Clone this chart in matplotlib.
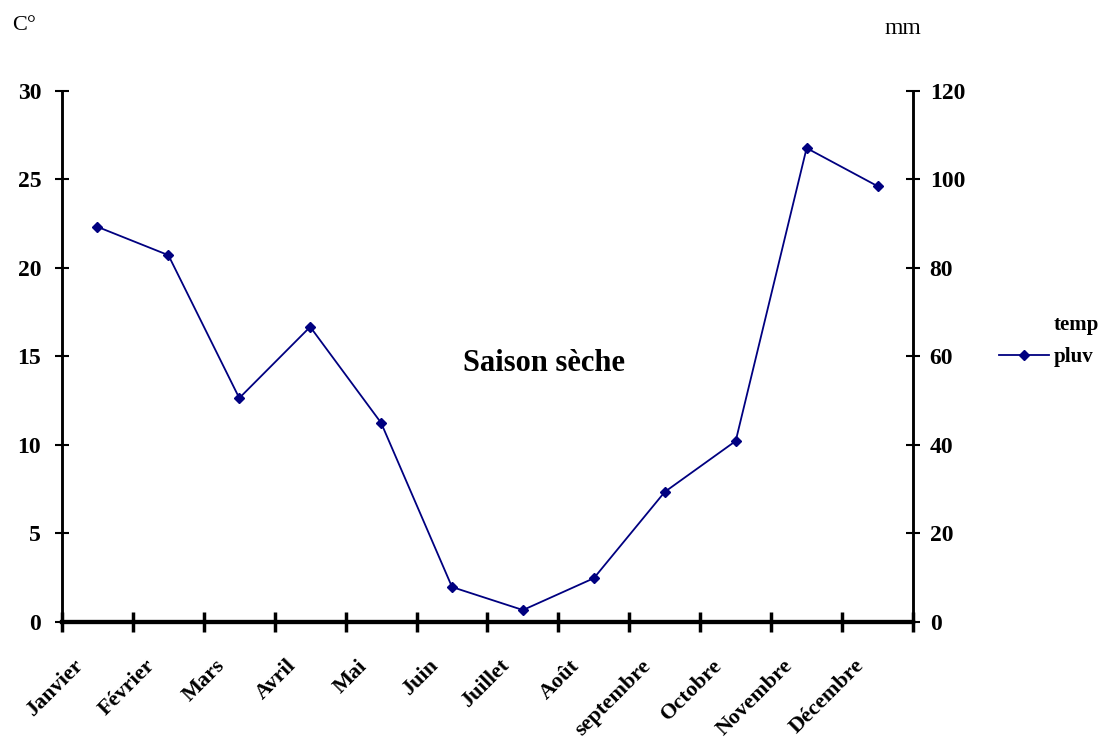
import matplotlib
matplotlib.use("Agg")
import matplotlib.pyplot as plt
import matplotlib.transforms as mtransforms
from matplotlib.lines import Line2D

plt.rcParams['font.family'] = ['Liberation Serif', 'DejaVu Serif']

# data
mois = ['Janvier', 'Février', 'Mars', 'Avril', 'Mai', 'Juin', 'Juillet',
        'Août', 'septembre', 'Octobre', 'Novembre', 'Décembre']
pluv = [89.3, 82.9, 50.6, 66.7, 45.0, 7.9, 2.7, 9.9, 29.4, 40.9, 107.1, 98.5]

fig = plt.figure(figsize=(11.13, 7.38), dpi=100)
ax = fig.add_axes([0.0557, 0.1572, 0.7646, 0.7195])
ax2 = ax.twinx()

x = [i + 0.5 for i in range(len(mois))]
ax2.plot(x, pluv, color='#000080', lw=1.3, marker='D', ms=5)

ax.set_xlim(0, 12)
ax.set_ylim(0, 30)
ax2.set_ylim(0, 120)
ax.set_yticks(range(0, 31, 5))
ax2.set_yticks(range(0, 121, 20))

ax.set_xticks(range(13), minor=False)
ax.set_xticklabels([])
ax.set_xticks(x, minor=True)
ax.set_xticklabels(mois, minor=True, rotation=45, ha='right', rotation_mode='anchor',
                   fontsize=16, fontweight='bold')
ax.tick_params(axis='x', which='minor', length=0, pad=10)
ax.tick_params(axis='x', which='major', direction='inout', length=14, width=2.5)
ax.tick_params(axis='y', direction='inout', length=10, width=1.5, labelsize=17, pad=10)
ax2.tick_params(axis='y', direction='inout', length=10, width=1.5, labelsize=17, pad=7)
for lab in ax.get_yticklabels() + ax2.get_yticklabels():
    lab.set_fontweight('bold')

# decaler les etiquettes des mois
shift = mtransforms.ScaledTranslation(-0.24, -0.2, fig.dpi_scale_trans)
for lab in ax.get_xticklabels(minor=True):
    lab.set_transform(lab.get_transform() + shift)

for a in (ax, ax2):
    a.spines['top'].set_visible(False)
    a.spines['left'].set_linewidth(1.8)
    a.spines['right'].set_linewidth(1.8)
    a.spines['bottom'].set_linewidth(3)

fig.text(0.011, 0.965, 'C°', fontsize=16, va='center')
fig.text(0.795, 0.962, 'mm', fontsize=17, va='center')
ax.text(6.8, 14.6, 'Saison sèche', fontsize=22, fontweight='bold', ha='center', va='center')

handles = [Line2D([], [], linestyle='none'),
           Line2D([], [], color='#000080', lw=1.3, marker='D', ms=5)]
fig.legend(handles, ['temp', 'pluv'], loc='center left', bbox_to_anchor=(0.881, 0.538),
           frameon=False, handlelength=2.4, handletextpad=0.2, labelspacing=0.6,
           prop={'size': 15, 'weight': 'bold'})

fig.savefig('out.png', dpi=100)
